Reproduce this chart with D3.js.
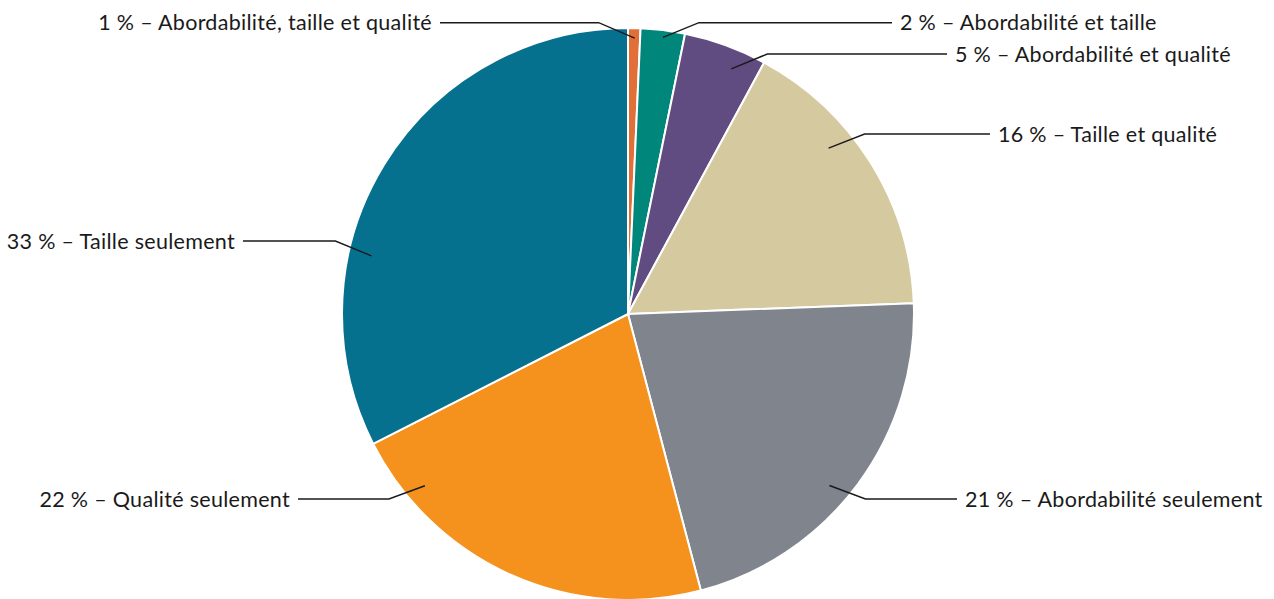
<!DOCTYPE html>
<html><head><meta charset="utf-8">
<script src="https://cdn.jsdelivr.net/npm/d3@7"></script>
<style>body{margin:0;background:#fff}svg{display:block}</style>
</head><body>
<svg id="c" width="1274" height="599"></svg>
<script>
const categories = ["Abordabilité, taille et qualité","Abordabilité et taille","Abordabilité et qualité","Taille et qualité","Abordabilité seulement","Qualité seulement","Taille seulement"];
const values = [0.7, 2.5, 4.7, 16.5, 21.5, 21.6, 32.5];
const pctLabels = ["1 %","2 %","5 %","16 %","21 %","22 %","33 %"];
const colors = ["#E07038","#00867A","#604C80","#D5C9A0","#80848C","#F5921E","#06708F"];
// label layout: t = fraction across slice angle, r = radius fraction, ly = line y, tx = text x, side
const layT = [0.55, 0.52, 0.67, 0.37, 0.55, 0.83, 0.34];
const layR = [0.965, 0.975, 0.93, 0.91, 0.925, 0.93, 0.92];
const layY = [22.7, 22.7, 54, 134, 499, 499, 241];
const layX = [432, 900, 955, 998, 965, 290, 235];
const laySide = [-1, 1, 1, 1, 1, -1, -1];

const W = 1274, H = 599, cx = 628, cy = 314, R = 286;
const svg = d3.select("#c");
const g = svg.append("g").attr("transform", `translate(${cx},${cy})`);
const pie = d3.pie().sort(null).value(d => d)(values);
const arc = d3.arc().innerRadius(0).outerRadius(R);
g.selectAll("path.s").data(pie).join("path")
  .attr("d", arc).attr("fill", (d,i) => colors[i])
  .attr("stroke", "#fff").attr("stroke-width", 2).attr("stroke-linejoin","round");

const lines = svg.append("g");
pie.forEach((d, i) => {
  const a = d.startAngle + (d.endAngle - d.startAngle) * layT[i];
  const r = R * layR[i];
  const sx = cx + r * Math.sin(a), sy = cy - r * Math.cos(a);
  const s = laySide[i];
  const ex = sx + s * 36, ey = layY[i];
  const lx = layX[i] - s * 8;
  lines.append("polyline")
    .attr("points", `${sx},${sy} ${ex},${ey} ${lx},${ey}`)
    .attr("fill", "none").attr("stroke", "#1a1a1a").attr("stroke-width", 1.4);
  svg.append("text")
    .attr("x", layX[i]).attr("y", ey)
    .attr("dy", "0.35em")
    .attr("text-anchor", s > 0 ? "start" : "end")
    .attr("font-family", "Lato, 'Open Sans', sans-serif")
    .attr("font-size", 21.5).attr("letter-spacing", 0.3).attr("fill", "#1a1a1a")
    .text(pctLabels[i] + " – " + categories[i]);
});
</script>
</body></html>
